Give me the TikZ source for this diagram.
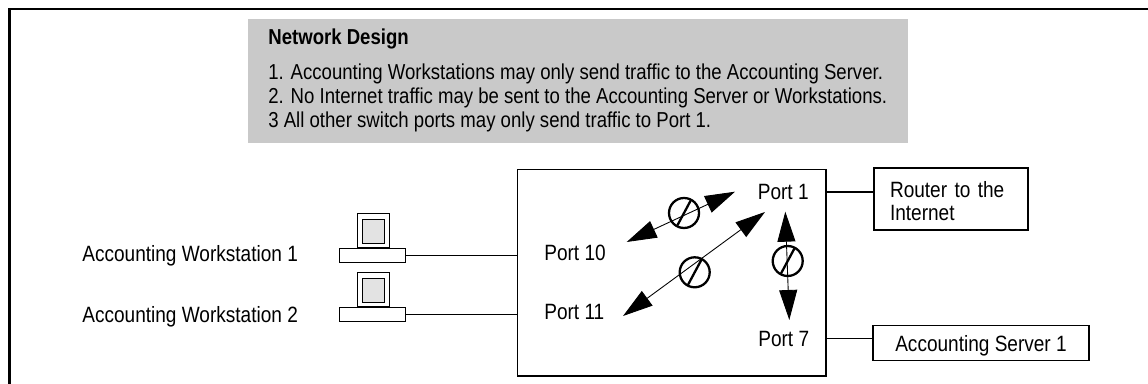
\documentclass[tikz,border=0pt]{standalone}
\usepackage{fontspec}
\setmainfont[FakeStretch=0.86]{Liberation Sans}
\usetikzlibrary{arrows.meta}
\definecolor{panelgray}{gray}{0.79}
\definecolor{screengray}{gray}{0.89}
\tikzset{
    txt/.style={inner sep=0pt,anchor=base west,font=\fontsize{12.6pt}{13.6pt}\selectfont},
    ruletxt/.style={txt,font=\fontsize{12.3pt}{13.6pt}\selectfont},
    box/.style={draw,line width=0.7pt,inner sep=0pt},
    wire/.style={line width=0.6pt},
    flow/.style={line width=0.5pt,{Triangle[length=0.6cm,width=0.36cm]}-{Triangle[length=0.6cm,width=0.36cm]}},
    blocked/.style={circle,draw,line width=1.3pt,minimum size=0.6cm,inner sep=0pt}
}
\begin{document}
\begin{tikzpicture}[x=0.02cm,y=-0.02cm]
    \useasboundingbox (0,0) rectangle (1148,384);

    % Frame
    \draw[line width=1.6pt] (9.5,384) -- (9.5,9) -- (1148,9);

    % Design notes
    \fill[panelgray] (248,19) rectangle (908,143);
    \node[txt,font=\fontsize{12.3pt}{13.6pt}\selectfont\bfseries] (title) at (268,45) {Network Design};
    \node[ruletxt] (rule1) at (268,80) {1. Accounting Workstations may only send traffic to the Accounting Server.};
    \node[ruletxt] (rule2) at (268,104) {2. No Internet traffic may be sent to the Accounting Server or Workstations.};
    \node[ruletxt] (rule3) at (268,128) {3 All other switch ports may only send traffic to Port 1.};

    % Switch
    \draw[box] (517.5,169.5) rectangle (826,376);
    \node[txt] (port10) at (544,261) {Port 10};
    \node[txt] (port11) at (544,320) {Port 11};
    \node[txt] (port1) at (757.5,200) {Port 1};
    \node[txt] (port7) at (758,346.5) {Port 7};
    \coordinate (sw10) at (517.5,255.5);
    \coordinate (sw11) at (517.5,314.5);
    \coordinate (sw1) at (826,192);
    \coordinate (sw7) at (826,338.5);

    % Workstations
    \node[txt] (wslabel1) at (82,262) {Accounting Workstation 1};
    \node[txt] (wslabel2) at (82,322.5) {Accounting Workstation 2};
    \foreach \name/\yy in {ws1/0,ws2/59} {
        \draw[box] (357.5,213.5+\yy) rectangle (389.5,248+\yy);
        \draw[box,fill=screengray] (362.5,219.5+\yy) rectangle (384.5,243.5+\yy);
        \node[box,minimum width=1.32cm,minimum height=0.29cm] (\name) at (372.3,255.5+\yy) {};
    }
    \draw[wire] (ws1.east) -- (sw10);
    \draw[wire] (ws2.east) -- (sw11);

    % Other boxes
    \node[box,minimum width=3.08cm,minimum height=1.24cm,align=left,text width=2.44cm,
        font=\fontsize{12.6pt}{13.6pt}\selectfont] (router) at (951,199) {\rule{0pt}{11.5pt}Router to the\\Internet};
    \node[box,minimum width=4.32cm,minimum height=0.7cm,text height=0.34cm,text depth=0cm,
        font=\fontsize{12.6pt}{13.6pt}\selectfont] (server) at (981,343) {Accounting Server 1};
    \draw[wire] (sw1) -- (router.west |- sw1);
    \draw[wire] (sw7) -- (server.west |- sw7);

    % Blocked paths
    \coordinate (a1) at (626.7,242);
    \coordinate (a2) at (735,191.7);
    \coordinate (b1) at (623,316);
    \coordinate (b2) at (765,212);
    \coordinate (c1) at (785.3,211.7);
    \coordinate (c2) at (789.3,320);
    \draw[flow] (a1) -- (a2);
    \draw[flow] (b1) -- (b2);
    \draw[flow] (c2) -- (c1);
    \node[blocked] (stop1) at (684,213) {};
    \node[blocked] (stop2) at (694.7,272.3) {};
    \node[blocked] (stop3) at (787.7,261) {};
    \foreach \s in {stop1,stop2,stop3} {
        \draw[line width=1.3pt] (\s.center) ++(6.7,-12.5) -- ++(-13.4,25);
    }
\end{tikzpicture}
\end{document}
